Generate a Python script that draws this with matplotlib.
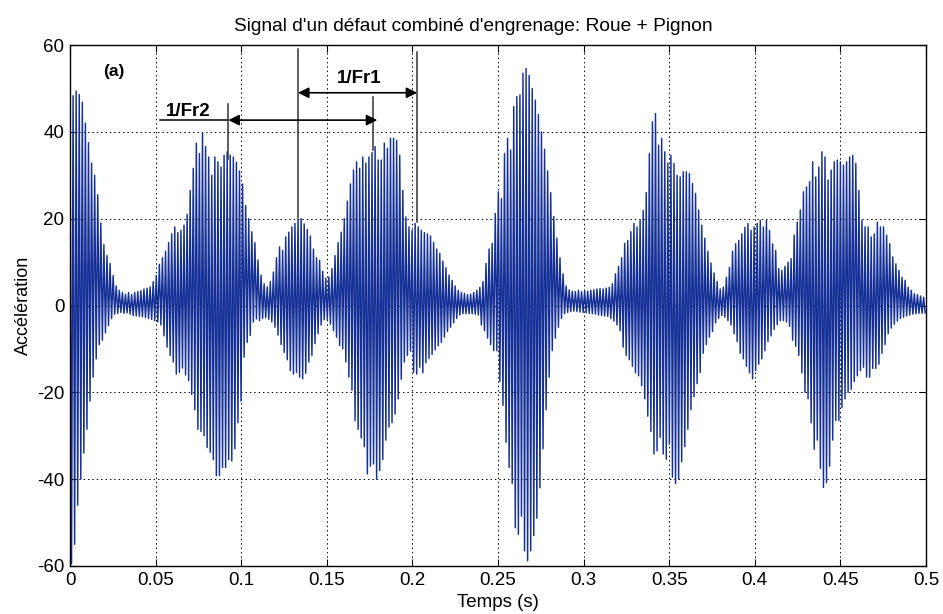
import numpy as np
import matplotlib
matplotlib.use("Agg")
import matplotlib.pyplot as plt

plt.rcParams['font.family'] = ['Liberation Sans', 'DejaVu Sans']
plt.rcParams['axes.unicode_minus'] = False

# ---- data (one value per carrier cycle) ----
dt = 0.0018  # carrier period (s)

upper = [
    44.6, 48.3, 49.4, 48.6, 46.8, 42, 37.5, 32.8, 30, 25.5,
    19, 14, 11.5, 9.7, 6.9, 4.5, 3.5, 3.0, 2.6, 3.0,
    2.5, 3.0, 3.2, 3.4, 3.8, 4.0, 4.3, 5.5, 6.9, 9.5,
    11, 12.5, 14.5, 16.5, 18.1, 16.8, 17.3, 18.5, 21, 26.5,
    31.6, 37.4, 35, 39.7, 36.6, 34.2, 30, 34.2, 33.1, 31.9,
    34.6, 35.4, 34.6, 34.2, 33, 31, 28, 23, 20, 17,
    14.5, 10.5, 7, 5, 4.3, 5.5, 7.7, 11, 13.5, 12.7,
    15.8, 16.9, 18.1, 18.9, 20, 20, 18.8, 17.5, 16, 13,
    11, 10.4, 7.9, 6.3, 6.6, 8.5, 11.5, 14.5, 16.9, 20,
    24, 28, 31.2, 33.1, 31.6, 34.2, 32.8, 34.2, 35.2, 36.6,
    33.5, 33.5, 37.4, 36.2, 38.5, 38.5, 38, 34.6, 26.5, 20.4,
    18.1, 17.3, 18.9, 18.1, 17.3, 16.8, 16.5, 16, 14.5, 13,
    12, 10.2, 8.7, 7, 5.8, 4.5, 3.5, 3, 2.8, 2.5,
    2.6, 3, 3.5, 4.2, 5.5, 9.7, 13, 14.3, 21.2, 26.2,
    24.6, 35, 38.5, 35.8, 45.8, 48.1, 48.5, 53.5, 54.6, 53,
    50, 47.3, 44, 40, 36, 31, 26, 20.5, 15.5, 11,
    7.3, 4.5, 3.6, 3.3, 3.2, 3.5, 3.2, 3.4, 3.3, 3.5,
    3.6, 3.8, 3.9, 3.8, 4.0, 4.2, 5, 7.3, 9, 11,
    14.3, 15, 17, 18.9, 18.1, 19.6, 21.9, 26, 35, 42.3,
    44.2, 36.9, 38.5, 35.4, 32.8, 34.6, 32.7, 30, 29.6, 30.8,
    30.8, 30.4, 28.1, 25.8, 22, 18.5, 15.5, 12.5, 9.8, 7.5,
    5.5, 3.8, 4.2, 6.5, 8.8, 12.5, 14.2, 15, 16.5, 18,
    18.9, 17.3, 18.1, 18.9, 19.6, 18.1, 19.6, 17.3, 14.2, 12.7,
    8.5, 8.1, 9, 10, 10.8, 16.2, 19.2, 22, 26.2, 27.3,
    28.5, 33.1, 29.6, 31.9, 35.4, 34.2, 28.9, 31.2, 33.1, 33.5,
    33.1, 32.3, 33.1, 34.2, 34.6, 32.7, 26.5, 19.6, 18.1, 18.1,
    15.8, 16.5, 19.2, 18.1, 18.1, 16.2, 14.2, 11.2, 9.6, 8.1,
    6.5, 5.8, 4.2, 3.5, 2.7, 2.5, 2.2, 1.9,
]

lower = [
    -59.5, -55, -46, -40, -34, -28.5, -22, -16.5, -12.3, -9,
    -8, -6.3, -4.6, -3, -2, -1.8, -1.6, -1.8, -1.7, -2,
    -2.3, -2.4, -2.5, -2.6, -2.8, -3, -3.2, -3.5, -3.8, -4.5,
    -7, -9.6, -11.5, -13, -15.8, -15.4, -14.4, -16, -17.3, -20.5,
    -24, -28.5, -29, -30, -32.7, -33.8, -35.5, -39.2, -39.2, -37.3,
    -37.3, -35.5, -35.8, -33, -27, -22, -11.9, -8.5, -6.9, -3.8,
    -3.1, -3.5, -3, -2.8, -3.2, -3.8, -5, -6.8, -9, -10.8,
    -12.5, -15, -15.8, -15.4, -16.5, -16.9, -15.6, -13, -11.5, -8.8,
    -6.5, -4.5, -3.3, -3.2, -4.3, -5.8, -7.3, -9.2, -10, -13,
    -16.5, -19.5, -26.5, -28.5, -30.5, -32.5, -38.8, -37, -36.5, -40,
    -38, -35.5, -31, -28, -27, -25, -21.5, -17, -13, -11.5,
    -10.5, -15.4, -15.8, -14.2, -15.5, -13.2, -12.2, -11.3, -10.2, -9.3,
    -8.5, -7.3, -6, -5, -4, -3, -2.2, -1.9, -1.9, -1.9,
    -1.9, -2, -2.2, -4.5, -5.8, -7.5, -9, -10.4, -10.4, -17.5,
    -23, -31.5, -37.3, -41, -51.2, -52.7, -48.5, -56.5, -58.8, -56.5,
    -53, -49, -42, -33, -24, -16.5, -10.4, -7.5, -5, -3,
    -1.9, -1.6, -1.4, -1.3, -1.4, -1.5, -1.6, -1.7, -1.8, -1.9,
    -2.0, -2.2, -2.3, -2.4, -2.5, -3, -3.6, -4.5, -5.8, -9.6,
    -11.5, -12.5, -14, -15.5, -16.2, -18.5, -21.5, -25.5, -29, -34.2,
    -33.5, -30.4, -34.2, -35.4, -31.9, -39.5, -41, -40, -36, -32.5,
    -28.5, -24, -21, -18, -15.4, -11, -9, -7.3, -6, -4,
    -3, -2.3, -2.7, -3.5, -4.5, -6.5, -8.3, -11, -12.3, -14,
    -15.5, -16.9, -15, -13.5, -12.3, -10.4, -8.3, -7, -5.5, -4.4,
    -3.5, -3.5, -3.8, -4.8, -8, -9.4, -11.5, -15.5, -20, -21.5,
    -27, -33.1, -31, -37.5, -41.9, -40.8, -37, -31, -26.5, -26.5,
    -23.5, -21.5, -20, -19.3, -17.5, -16.2, -15, -14.2, -16.5, -16.5,
    -14.5, -14.5, -13.5, -11, -9, -6.5, -5.2, -4.3, -3.6, -3,
    -2.7, -2.4, -2.2, -2, -1.9, -1.8, -1.8, -1.7,
]

xticks = [0, 0.05, 0.1, 0.15, 0.2, 0.25, 0.3, 0.35, 0.4, 0.45, 0.5]
xticklabels = ["0", "0.05", "0.1", "0.15", "0.2", "0.25", "0.3", "0.35", "0.4", "0.45", "0.5"]
yticks = [-60, -40, -20, 0, 20, 40, 60]

title = "Signal d'un défaut combiné d'engrenage: Roue + Pignon"
xlabel = "Temps (s)"
ylabel = "Accélération"

# ---- build the zig-zag signal from the peak lists ----
up = np.array(upper, dtype=float)
lo = np.array(lower, dtype=float)
n = len(up)
t_up = np.arange(n) * dt
t_lo = t_up + dt / 2
t = np.empty(2 * n)
y = np.empty(2 * n)
t[0::2], t[1::2] = t_up, t_lo
y[0::2], y[1::2] = up, lo

fig = plt.figure(figsize=(9.43, 6.14), dpi=100)
ax = fig.add_axes([70 / 943, 1 - 566 / 614, 856 / 943, 521 / 614])
ax.plot(t, y, color='#142f96', lw=1.05, antialiased=True)

ax.set_xlim(0, 0.5)
ax.set_ylim(-60, 60)
ax.set_xticks(xticks)
ax.set_xticklabels(xticklabels)
ax.set_yticks(yticks)
ax.tick_params(direction='in', top=True, right=True, length=5, labelsize=13.5, pad=4)
ax.grid(True, color='black', linestyle=(0, (1.5, 3)), linewidth=0.7)
for s in ax.spines.values():
    s.set_linewidth(1.0)
ax.set_title(title, fontsize=13.8, pad=10, x=0.471)
ax.set_xlabel(xlabel, fontsize=13.5, labelpad=4)
ax.set_ylabel(ylabel, fontsize=13, labelpad=4)

# ---- annotations ----
ax.text(0.0257, 53.8, "(a)", fontsize=12.5, fontweight='bold', ha='center', va='center')
ax.text(0.0693, 44.6, "1/Fr2", fontsize=13.5, fontweight='bold', ha='center', va='center')
ax.text(0.1688, 52.3, "1/Fr1", fontsize=13.5, fontweight='bold', ha='center', va='center')

ax.plot([0.0526, 0.0920], [42.7, 42.7], color='black', lw=1.1)
ax.plot([0.0920, 0.0920], [46.4, 33.8], color='#333333', lw=1.1)
ax.plot([0.1772, 0.1772], [48.0, 35.8], color='#333333', lw=1.1)
ax.plot([0.1330, 0.1330], [59.0, 20.4], color='#333333', lw=1.1)
ax.plot([0.2024, 0.2024], [58.3, 19.2], color='#333333', lw=1.1)

arrow = dict(arrowstyle='<|-|>', color='black', lw=1.2, mutation_scale=16, shrinkA=0, shrinkB=0)
ax.annotate("", xy=(0.1795, 42.7), xytext=(0.0925, 42.7), arrowprops=arrow)
ax.annotate("", xy=(0.2028, 49.0), xytext=(0.1332, 49.0), arrowprops=arrow)

fig.savefig("out.png", dpi=100)
